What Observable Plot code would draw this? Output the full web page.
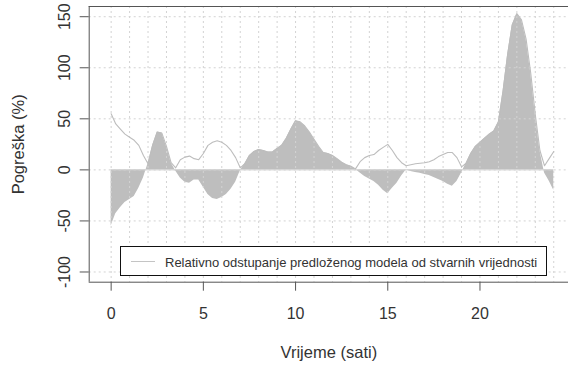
<!DOCTYPE html>
<html>
<head>
<meta charset="utf-8">
<script src="https://cdn.jsdelivr.net/npm/d3@7"></script>
<script src="https://cdn.jsdelivr.net/npm/@observablehq/plot@0.6"></script>
<style>
  html, body { margin: 0; padding: 0; background: #fff; }
  #wrap { position: relative; width: 568px; height: 369px; overflow: hidden; font-family: "Liberation Sans", Arial, sans-serif; }
  #legend { position: absolute; left: 120px; top: 246px; width: 427px; height: 30px; box-sizing: border-box; border: 1px solid #111; background: #fff; }
  #legend .swatch { position: absolute; left: 10px; top: 14px; width: 24px; border-top: 1px solid #c4c4c4; }
  #legend .lab { position: absolute; left: 44px; top: 9px; font-size: 13px; line-height: 13px; color: #333; white-space: nowrap; }
</style>
</head>
<body>
<div id="wrap"></div>
<script>
// hours (x)
const hours = [
  0, 0.25, 0.5, 0.75, 1, 1.25, 1.5, 1.75, 2, 2.25, 2.5, 2.75, 3, 3.25, 3.5, 3.75,
  4, 4.25, 4.5, 4.75, 5, 5.25, 5.5, 5.75, 6, 6.25, 6.5, 6.75, 7, 7.25, 7.5, 7.75,
  8, 8.25, 8.5, 8.75, 9, 9.25, 9.5, 9.75, 10, 10.25, 10.5, 10.75, 11, 11.25, 11.5, 11.75,
  12, 12.25, 12.5, 12.75, 13, 13.25, 13.5, 13.75, 14, 14.25, 14.5, 14.75, 15, 15.25, 15.5, 15.75,
  16, 16.25, 16.5, 16.75, 17, 17.25, 17.5, 17.75, 18, 18.25, 18.5, 18.75, 19, 19.25, 19.5, 19.75,
  20, 20.25, 20.5, 20.75, 21, 21.25, 21.5, 21.75, 22, 22.25, 22.5, 22.75, 23, 23.25, 23.5, 23.75,
  24
];
// relative error (%) – filled area
const errorValues = [
  -55, -43, -37, -32,   -29, -26, -18, -8,   6, 24, 37, 36,   23, 7, -1, -8,
  -12, -13, -10, -10,   -17, -24, -28, -29,   -27, -24, -19, -12,   -1, 6, 14, 18,
  20, 19, 17.5, 17.5,   21, 24, 31, 40,   48, 47, 43, 37,   30, 23, 17, 16,
  14, 11, 7.5, 5,   3.5, 0.5, -3, -6.5,   -9, -11.5, -15, -20,   -23.5, -18, -13, -6,
  0, -1.6, -2.5, -3.3,   -4.5, -5.5, -7.5, -9.5,   -11.5, -14, -16, -11.5,   -3, 6.5, 16, 23,
  27, 31, 35, 38,   47, 77, 113, 142,   153, 147, 128, 95,   54, 19, -3, -11,
  -20
];
// absolute deviation (%) – thin line
const lineValues = [
  55, 45, 40, 35,   32, 29, 24, 14,   6, 24, 37, 36,   23, 7, 2, 10,
  12.5, 13.5, 11, 10,   16, 24, 27, 28.5,   27, 24, 19, 12,   2, 6, 14, 18,
  20, 19, 17.5, 17.5,   21, 24, 31, 40,   48, 47, 43, 37,   30, 23, 17, 16,
  14, 11, 7.5, 5,   3.5, 1, 8, 12,   14, 15, 19, 22,   25, 19, 12, 7,
  4, 5, 6, 6.5,   7, 8, 10, 13,   15, 17, 17, 12,   3, 6.5, 16, 23,
  27, 31, 35, 38,   47, 77, 113, 142,   153, 147, 128, 95,   54, 19, 4, 11,
  18
];
const xTicks = [0, 5, 10, 15, 20];
const yTicks = [-100, -50, 0, 50, 100, 150];
const gridHours = [0,1,2,3,4,5,6,7,8,9,10,11,12,13,14,15,16,17,18,19,20,21,22,23,24];
const xDomain = [-1.19, 24.8];
const yDomain = [-110, 160];
const xTitle = "Vrijeme (sati)";
const yTitle = "Pogreška (%)";
const legendLabel = "Relativno odstupanje predloženog modela od stvarnih vrijednosti";

const rows = hours.map((t, i) => ({t, err: errorValues[i], abs: lineValues[i]}));

const boxColor = "#555";
const gridStyle = {stroke: "#d3d3d3", strokeWidth: 1, strokeDasharray: "2,3"};

const chart = Plot.plot({
  width: 568,
  height: 369,
  marginLeft: 88.7,
  marginRight: 0,
  marginTop: 6,
  marginBottom: 87.3,
  x: {domain: xDomain},
  y: {domain: yDomain},
  style: {fontFamily: "'Liberation Sans', Arial, sans-serif", fontSize: "16px", color: "#333", background: "#fff", overflow: "visible"},
  marks: [
    Plot.areaY(rows, {x: "t", y: "err", fill: "#bebebe", curve: "linear"}),
    Plot.ruleX(gridHours, gridStyle),
    Plot.ruleY(yTicks, gridStyle),
    Plot.ruleY([0], {x1: hours[0], x2: hours[hours.length - 1], stroke: "#d0d0d0", strokeWidth: 1}),
    Plot.line(rows, {x: "t", y: "abs", stroke: "#bdbdbd", strokeWidth: 1.1, curve: "linear"}),
    Plot.ruleY([yDomain[1], yDomain[0]], {stroke: boxColor, strokeWidth: 1}),
    Plot.ruleX([xDomain[0]], {stroke: boxColor, strokeWidth: 1}),
    Plot.axisX({ticks: xTicks, tickSize: 9, tickPadding: 16, stroke: boxColor, fontSize: 16, label: null, tickFormat: d => String(d)}),
    Plot.axisY({ticks: yTicks, tickSize: 9, tickPadding: 10, tickRotate: -90, stroke: boxColor, fontSize: 16, label: null, tickFormat: d => String(d)}),
    Plot.text([xTitle], {text: d => d, frameAnchor: "bottom", dy: 71, lineAnchor: "middle", textAnchor: "middle", fontSize: 16.5, fill: "#333"}),
    Plot.text([yTitle], {text: d => d, frameAnchor: "left", dx: -70, rotate: -90, lineAnchor: "middle", textAnchor: "middle", fontSize: 16.5, fill: "#333"})
  ]
});

const wrap = document.getElementById("wrap");
wrap.appendChild(chart);
const legend = document.createElement("div");
legend.id = "legend";
legend.innerHTML = `<div class="swatch"></div><div class="lab"></div>`;
legend.querySelector(".lab").textContent = legendLabel;
wrap.appendChild(legend);
</script>
</body>
</html>
